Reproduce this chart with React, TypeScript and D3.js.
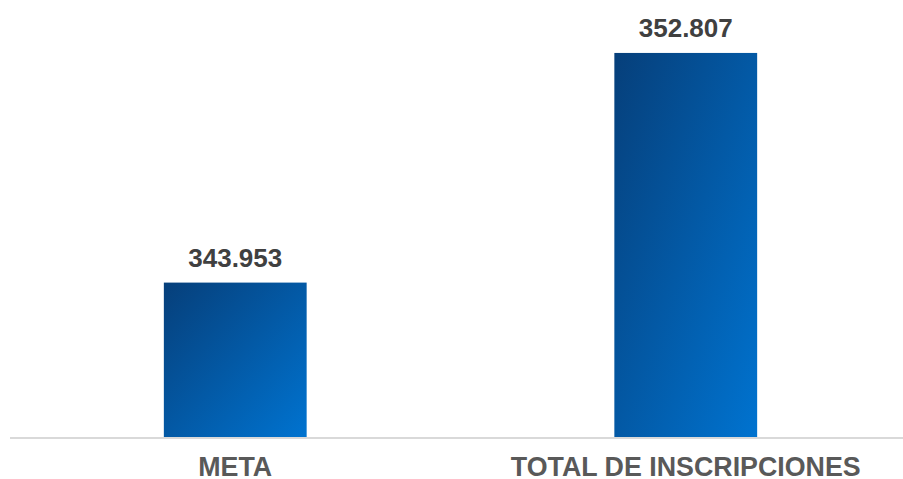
import React from "react";
import * as d3 from "d3";

const categories = ["META", "TOTAL DE INSCRIPCIONES"];
const values = [343953, 352807];
const valueLabels = ["343.953", "352.807"];

const width = 903;
const height = 479;
const baseline = 437;
const top = 22;

export default function App() {
  const x = d3.scaleBand<string>().domain(categories).range([10, 911]).padding(0);
  const y = d3.scaleLinear().domain([338000, 354000]).range([baseline, top]);
  const barW = x.bandwidth() * 0.317;
  const font = "'Liberation Sans', Arial, sans-serif";

  return (
    <svg
      width={width}
      height={height}
      style={{ position: "absolute", left: 0, top: 0, background: "#fff" }}
    >
      <defs>
        <linearGradient id="barGrad" x1="0" y1="0" x2="1" y2="1">
          <stop offset="0" stopColor="#063f7a" />
          <stop offset="1" stopColor="#0073d0" />
        </linearGradient>
      </defs>
      <line x1={10} x2={width} y1={baseline + 1} y2={baseline + 1} stroke="#d9d9d9" strokeWidth={2} />
      {categories.map((c, i) => {
        const cx = (x(c) ?? 0) + x.bandwidth() / 2;
        const yTop = y(values[i]);
        return (
          <g key={c}>
            <rect
              x={cx - barW / 2}
              y={yTop}
              width={barW}
              height={baseline - yTop}
              fill="url(#barGrad)"
            />
            <text
              x={cx}
              y={yTop - 16}
              textAnchor="middle"
              fontFamily={font}
              fontWeight="bold"
              fontSize={26}
              fill="#404040"
            >
              {valueLabels[i]}
            </text>
            <text
              x={cx}
              y={476}
              textAnchor="middle"
              fontFamily={font}
              fontWeight="bold"
              fontSize={26.8}
              fill="#595959"
            >
              {c}
            </text>
          </g>
        );
      })}
    </svg>
  );
}
